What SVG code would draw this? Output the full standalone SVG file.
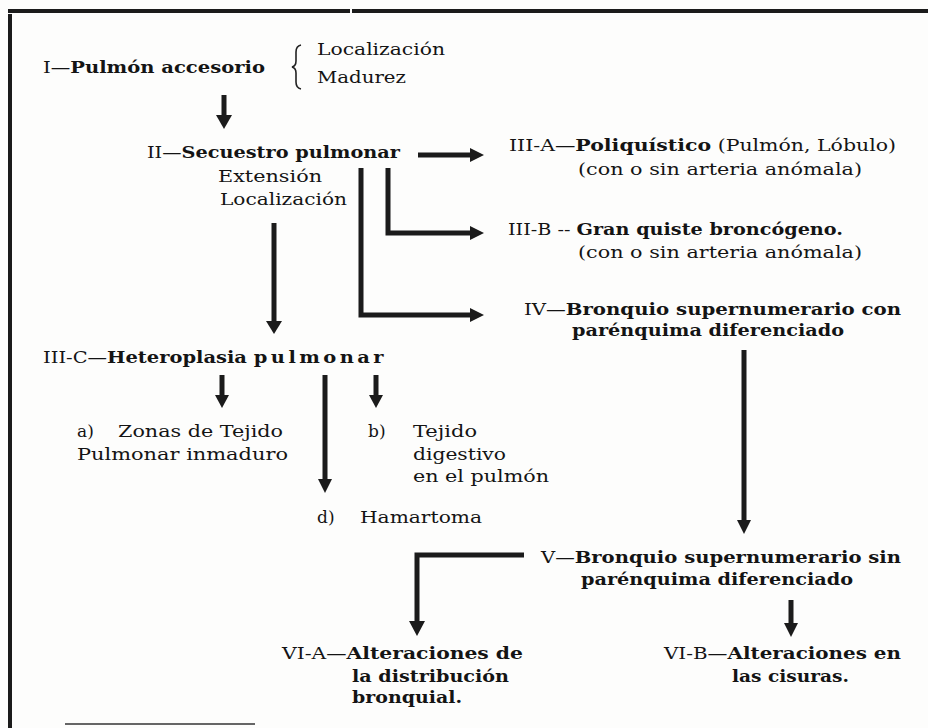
<svg xmlns="http://www.w3.org/2000/svg" width="928" height="728" viewBox="0 0 928 728">
<defs>
<style>
text{font-family:"DejaVu Serif","Liberation Serif",serif;font-size:17px;fill:#141414}
.b{font-weight:bold}
.ln{stroke:#1b1b1b;stroke-width:5;fill:none}
.hd{fill:#1b1b1b}
.frame{fill:#1b1b1b}
.brace{stroke:#222;stroke-width:1.6;fill:none}
</style>
</defs>
<rect width="928" height="728" fill="#fdfdfc"/>
<g id="frame">
<rect class="frame" x="8" y="9" width="342" height="4"/>
<rect class="frame" x="352" y="9" width="576" height="4"/>
<rect class="frame" x="8" y="14" width="4" height="714"/>
<rect x="65" y="723" width="190" height="2" fill="#666"/>
</g>
<g id="connectors">
<line class="ln" x1="224" y1="95" x2="224" y2="116"/><polygon class="hd" points="216,115 232,115 224,129"/>
<line class="ln" x1="418" y1="155" x2="472" y2="155"/><polygon class="hd" points="470,148 470,162 484,155"/>
<polyline class="ln" points="388,168 388,233 472,233"/><polygon class="hd" points="470,226 470,240 484,233"/>
<polyline class="ln" points="361,168 361,315 472,315"/><polygon class="hd" points="470,308 470,322 484,315"/>
<line class="ln" x1="274" y1="223" x2="274" y2="322"/><polygon class="hd" points="266,321 282,321 274,334"/>
<line class="ln" x1="222" y1="375" x2="222" y2="396"/><polygon class="hd" points="215,395 229,395 222,408"/>
<line class="ln" x1="376" y1="375" x2="376" y2="396"/><polygon class="hd" points="369,395 383,395 376,408"/>
<line class="ln" x1="325" y1="375" x2="325" y2="480"/><polygon class="hd" points="318,479 332,479 325,493"/>
<line class="ln" x1="744" y1="350" x2="744" y2="521"/><polygon class="hd" points="737,520 751,520 744,534"/>
<polyline class="ln" points="524,555 417,555 417,622"/><polygon class="hd" points="409,621 425,621 417,636"/>
<line class="ln" x1="791" y1="600" x2="791" y2="624"/><polygon class="hd" points="784,623 798,623 791,637"/>
</g>
<g id="n1">
<text x="43" y="73" textLength="222" lengthAdjust="spacingAndGlyphs">I—<tspan class="b">Pulmón accesorio</tspan></text>
<path class="brace" d="M301,45 Q296,46 296,52 L296,61 Q296,66 292,67 Q296,68 296,73 L296,82 Q296,88 301,89"/>
<text x="317" y="55" textLength="128" lengthAdjust="spacingAndGlyphs">Localización</text>
<text x="317" y="83" textLength="89" lengthAdjust="spacingAndGlyphs">Madurez</text>
</g>
<g id="n2">
<text x="147" y="158" textLength="253" lengthAdjust="spacingAndGlyphs">II—<tspan class="b">Secuestro pulmonar</tspan></text>
<text x="218" y="182" textLength="104" lengthAdjust="spacingAndGlyphs">Extensión</text>
<text x="220" y="205" textLength="127" lengthAdjust="spacingAndGlyphs">Localización</text>
</g>
<g id="n3a">
<text x="509" y="151" textLength="387" lengthAdjust="spacingAndGlyphs">III-A—<tspan class="b">Poliquístico</tspan> (Pulmón, Lóbulo)</text>
<text x="578" y="175" textLength="284" lengthAdjust="spacingAndGlyphs">(con o sin arteria anómala)</text>
</g>
<g id="n3b">
<text x="508" y="235" textLength="335" lengthAdjust="spacingAndGlyphs">III-B -- <tspan class="b">Gran quiste broncógeno.</tspan></text>
<text x="578" y="258" textLength="284" lengthAdjust="spacingAndGlyphs">(con o sin arteria anómala)</text>
</g>
<g id="n4">
<text x="524" y="315" textLength="377" lengthAdjust="spacingAndGlyphs">IV—<tspan class="b">Bronquio supernumerario con</tspan></text>
<text x="572" y="336" class="b" textLength="272" lengthAdjust="spacingAndGlyphs">parénquima diferenciado</text>
</g>
<g id="n3c">
<text x="43" y="363" textLength="344" lengthAdjust="spacingAndGlyphs">III-C—<tspan class="b">Heteroplasia </tspan><tspan class="b" letter-spacing="3">pulmonar</tspan></text>
</g>
<g id="na">
<text x="77" y="437">a)</text>
<text x="118" y="437" textLength="165" lengthAdjust="spacingAndGlyphs">Zonas de Tejido</text>
<text x="77" y="460" textLength="211" lengthAdjust="spacingAndGlyphs">Pulmonar inmaduro</text>
</g>
<g id="nb">
<text x="368" y="437">b)</text>
<text x="413" y="437" textLength="64" lengthAdjust="spacingAndGlyphs">Tejido</text>
<text x="413" y="460" textLength="93" lengthAdjust="spacingAndGlyphs">digestivo</text>
<text x="413" y="482" textLength="136" lengthAdjust="spacingAndGlyphs">en el pulmón</text>
</g>
<g id="nd">
<text x="317" y="523">d)</text>
<text x="360" y="523" textLength="122" lengthAdjust="spacingAndGlyphs">Hamartoma</text>
</g>
<g id="n5">
<text x="541" y="563" textLength="360" lengthAdjust="spacingAndGlyphs">V—<tspan class="b">Bronquio supernumerario sin</tspan></text>
<text x="581" y="585" class="b" textLength="272" lengthAdjust="spacingAndGlyphs">parénquima diferenciado</text>
</g>
<g id="n6a">
<text x="282" y="659" textLength="241" lengthAdjust="spacingAndGlyphs">VI-A—<tspan class="b">Alteraciones de</tspan></text>
<text x="352" y="682" class="b" textLength="157" lengthAdjust="spacingAndGlyphs">la distribución</text>
<text x="352" y="703" class="b" textLength="110" lengthAdjust="spacingAndGlyphs">bronquial.</text>
</g>
<g id="n6b">
<text x="664" y="659" textLength="237" lengthAdjust="spacingAndGlyphs">VI-B—<tspan class="b">Alteraciones en</tspan></text>
<text x="732" y="682" class="b" textLength="117" lengthAdjust="spacingAndGlyphs">las cisuras.</text>
</g>
</svg>
